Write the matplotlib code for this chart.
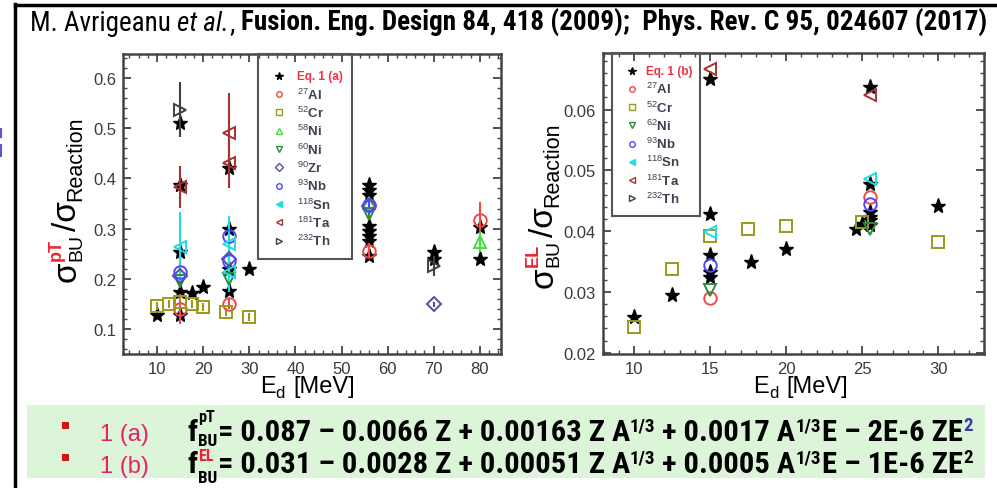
import matplotlib
matplotlib.use('Agg')
import matplotlib.pyplot as plt
from matplotlib import font_manager
from matplotlib.lines import Line2D
from matplotlib.patches import Rectangle
from matplotlib.ticker import MultipleLocator, FormatStrFormatter

# ---------------- data ----------------
# left panel: sigma_BU^pT / sigma_R
pT_eq_E = [10, 15, 15, 15, 15, 15, 17.5, 20, 25.5, 25.5, 25.5, 25.5, 30,
           56, 56, 56, 56, 56, 56, 56, 56, 70, 70, 80, 80]
pT_eq_f = [0.127, 0.510, 0.387, 0.253, 0.173, 0.127, 0.172, 0.183, 0.420, 0.300, 0.219, 0.176, 0.220,
           0.386, 0.376, 0.366, 0.306, 0.296, 0.286, 0.276, 0.246, 0.253, 0.240, 0.303, 0.240]

pT_Al_E = [15, 25.5, 56, 80]
pT_Al_f = [0.140, 0.150, 0.256, 0.317]
pT_Al_err = [0.030, 0.010, 0.015, 0.035]

pT_Cr_E = [10, 12.5, 15, 17.5, 20, 25, 30]
pT_Cr_f = [0.145, 0.150, 0.153, 0.150, 0.143, 0.133, 0.123]
pT_Cr_err = [0.008, 0.008, 0.008, 0.008, 0.008, 0.008, 0.008]

pT_Ni58_E = [56, 80]
pT_Ni58_f = [0.350, 0.273]
pT_Ni58_err = [0.010, 0.020]

pT_Ni60_E = [15, 25.5, 56]
pT_Ni60_f = [0.196, 0.200, 0.330]
pT_Ni60_err = [0.015, 0.015, 0.010]

pT_Zr_E = [15, 25.5, 56, 70]
pT_Zr_f = [0.206, 0.240, 0.345, 0.149]
pT_Zr_err = [0.010, 0.010, 0.010, 0.005]

pT_Nb_E = [15, 25.5, 25.5, 56]
pT_Nb_f = [0.213, 0.286, 0.236, 0.348]
pT_Nb_err = [0.015, 0.020, 0.020, 0.010]

pT_Sn_E = [15, 25.5, 25.5]
pT_Sn_f = [0.263, 0.270, 0.213]
pT_Sn_err = [0.070, 0.055, 0.040]

pT_Ta_E = [15, 25.5, 25.5]
pT_Ta_f = [0.383, 0.490, 0.430]
pT_Ta_err = [0.042, 0.080, 0.050]

pT_Th_E = [15, 70]
pT_Th_f = [0.537, 0.226]
pT_Th_err = [0.055, 0.020]

# right panel: sigma_BU^EL / sigma_R
EL_eq_E = [10, 12.5, 15, 15, 15, 15, 15, 17.7, 20, 24.6, 25, 25.5, 25.5, 25.5, 25.5, 25.5, 25.5, 30]
EL_eq_f = [0.0259, 0.0295, 0.0650, 0.0429, 0.0360, 0.0333, 0.0325, 0.0349, 0.0371,
           0.0403, 0.0412, 0.0637, 0.0477, 0.0431, 0.0423, 0.0418, 0.0410, 0.0441]

EL_Al_E = [15, 25.5]
EL_Al_f = [0.0290, 0.0456]
EL_Cr_E = [10, 12.5, 15, 17.5, 20, 25, 30]
EL_Cr_f = [0.0243, 0.0338, 0.0392, 0.0404, 0.0409, 0.0415, 0.0383]
EL_Ni62_E = [15, 25.5]
EL_Ni62_f = [0.0303, 0.0404]
EL_Nb_E = [15, 25.5]
EL_Nb_f = [0.0344, 0.0445]
EL_Sn_E = [15, 25.5]
EL_Sn_f = [0.0399, 0.0486]
EL_Ta_E = [15, 25.5]
EL_Ta_f = [0.0667, 0.0624]

legend_left = ['Eq. 1 (a)', '$^{27}$Al', '$^{52}$Cr', '$^{58}$Ni', '$^{60}$Ni', '$^{90}$Zr',
               '$^{93}$Nb', '$^{118}$Sn', '$^{181}$Ta', '$^{232}$Th']
legend_right = ['Eq. 1 (b)', '$^{27}$Al', '$^{52}$Cr', '$^{62}$Ni', '$^{93}$Nb',
                '$^{118}$Sn', '$^{181}$Ta', '$^{232}$Th']

# ---------------- styles ----------------
STY = {
    'eq': ('*', 'black'),
    'Al': ('o', '#f04848'),
    'Cr': ('s', '#9a9a1a'),
    'Ni58': ('^', '#40e040'),
    'Ni60': ('v', '#2e8b3e'),
    'Ni62': ('v', '#2e8b3e'),
    'Zr': ('D', '#5a4aa0'),
    'Nb': ('o', '#4a4aff'),
    'Sn': ('<', '#20dde5'),
    'Ta': ('<', '#a83232'),
    'Th': ('>', '#404040'),
}
left_keys = ['eq', 'Al', 'Cr', 'Ni58', 'Ni60', 'Zr', 'Nb', 'Sn', 'Ta', 'Th']
right_keys = ['eq', 'Al', 'Cr', 'Ni62', 'Nb', 'Sn', 'Ta', 'Th']

SANS = 'Liberation Sans'
ttf = font_manager.fontManager.ttflist
names = {f.name for f in ttf}
NARROW, STRETCH = SANS, 'normal'
for cand in ['Liberation Sans Narrow', 'Arial Narrow', 'Nimbus Sans Narrow', 'Roboto Condensed',
             'Open Sans Condensed', 'DejaVu Sans Condensed']:
    if cand in names:
        NARROW = cand
        break
else:
    for f in ttf:
        if f.name in ('DejaVu Sans', 'Roboto', 'Open Sans', 'Noto Sans') and str(f.stretch) in (
                'condensed', 'semi-condensed', '87.5', '75', 'extra-condensed'):
            NARROW, STRETCH = f.name, 'condensed'
            break

plt.rcParams['font.family'] = [SANS, 'DejaVu Sans']
plt.rcParams['mathtext.fontset'] = 'custom'
plt.rcParams['mathtext.rm'] = SANS
plt.rcParams['mathtext.it'] = SANS + ':italic'
plt.rcParams['mathtext.bf'] = SANS + ':bold'

W, H = 997, 489
fig = plt.figure(figsize=(W / 100, H / 100), dpi=100)
renderer = fig.canvas.get_renderer()


def F(x, y):
    return (x / W, 1 - y / H)


def runs(x, y, groups, family, rot=0, scale=1.0, stretch='normal'):
    arts = []
    pos = 0.0
    for g in groups:
        if isinstance(g, (int, float)):
            pos += g * scale
            continue
        adv = 0.0
        for (s, size, dy, color, weight, style) in g:
            if rot == 0:
                xx, yy = x + pos, y - dy * scale
            else:
                xx, yy = x - dy * scale, y - pos
            t = fig.text(xx / W, 1 - yy / H, s, fontsize=size * scale, color=color,
                         fontweight=weight, fontstyle=style, family=[family, 'DejaVu Sans'],
                         fontstretch=stretch,
                         rotation=rot, rotation_mode='anchor', ha='left', va='baseline')
            bb = t.get_window_extent(renderer)
            adv = max(adv, bb.width if rot == 0 else bb.height)
            arts.append(t)
        pos += adv
    return arts, pos


def fit_runs(x, y, groups, family, target, rot=0, stretch='normal'):
    arts, total = runs(x, y, groups, family, rot, stretch=stretch)
    for a in arts:
        a.remove()
    s = target / total
    runs(x, y, groups, family, rot, scale=s, stretch=stretch)


# outer frame and background box
fig.add_artist(Line2D([15 / W, 15 / W], [0, 1 - 5 / H], color='black', lw=2.5, transform=fig.transFigure))
fig.add_artist(Line2D([15 / W, 1], [1 - 6 / H, 1 - 6 / H], color='black', lw=2.5, transform=fig.transFigure))
fig.add_artist(Line2D([1 / W, 1 / W], [1 - 130 / H, 1 - 138 / H], color='#5a5ad0', lw=1.5, transform=fig.transFigure))
fig.add_artist(Line2D([1 / W, 1 / W], [1 - 146 / H, 1 - 157 / H], color='#5a5ad0', lw=1.5, transform=fig.transFigure))
fig.add_artist(Rectangle(F(27, 479), 958 / W, 73 / H, transform=fig.transFigure,
                         facecolor='#dcf5d8', edgecolor='none', zorder=0))

# ---------------- axes ----------------
ax1 = fig.add_axes([123 / W, 1 - 355 / H, 378 / W, 300 / H])
ax2 = fig.add_axes([603 / W, 1 - 355 / H, 381 / W, 301 / H])

for ax in (ax1, ax2):
    for sp in ax.spines.values():
        sp.set_color('#444444')
        sp.set_linewidth(1.8)
    ax.tick_params(which='both', direction='in', top=True, right=True, color='#444444',
                   labelsize=12, labelcolor='#3a3a3a', pad=5)
    ax.tick_params(which='major', length=6, width=1.3)
    ax.tick_params(which='minor', length=3, width=1.0)

ax1.set_xlim(2.6, 84.6)
ax1.set_ylim(0.05, 0.648)
ax1.xaxis.set_major_locator(MultipleLocator(10))
ax1.xaxis.set_minor_locator(MultipleLocator(2))
ax1.yaxis.set_major_locator(MultipleLocator(0.1))
ax1.yaxis.set_minor_locator(MultipleLocator(0.02))
ax1.yaxis.set_major_formatter(FormatStrFormatter('%.1f'))

ax2.set_xlim(7.96, 33.0)
ax2.set_ylim(0.0198, 0.0693)
ax2.xaxis.set_major_locator(MultipleLocator(5))
ax2.xaxis.set_minor_locator(MultipleLocator(1))
ax2.yaxis.set_major_locator(MultipleLocator(0.01))
ax2.yaxis.set_minor_locator(MultipleLocator(0.002))
ax2.yaxis.set_major_formatter(FormatStrFormatter('%.2f'))

MS = {'eq': 11, 'Al': 9, 'Cr': 8, 'Ni58': 9, 'Ni60': 8, 'Ni62': 8, 'Zr': 7, 'Nb': 9,
      'Sn': 9, 'Ta': 9, 'Th': 9}


def draw(ax, key, E, f, err=None):
    m, c = STY[key]
    if key == 'eq':
        ax.plot(E, f, ls='none', marker=m, ms=MS[key], color=c, mec=c, zorder=3)
    else:
        ax.errorbar(E, f, yerr=err, fmt=m, ms=MS[key], mfc='none', mec=c, mew=1.4,
                    ecolor=c, elinewidth=1.5, capsize=0, zorder=4)


draw(ax1, 'eq', pT_eq_E, pT_eq_f)
draw(ax1, 'Al', pT_Al_E, pT_Al_f, pT_Al_err)
draw(ax1, 'Cr', pT_Cr_E, pT_Cr_f, pT_Cr_err)
draw(ax1, 'Ni58', pT_Ni58_E, pT_Ni58_f, pT_Ni58_err)
draw(ax1, 'Ni60', pT_Ni60_E, pT_Ni60_f, pT_Ni60_err)
draw(ax1, 'Zr', pT_Zr_E, pT_Zr_f, pT_Zr_err)
draw(ax1, 'Nb', pT_Nb_E, pT_Nb_f, pT_Nb_err)
draw(ax1, 'Sn', pT_Sn_E, pT_Sn_f, pT_Sn_err)
draw(ax1, 'Ta', pT_Ta_E, pT_Ta_f, pT_Ta_err)
draw(ax1, 'Th', pT_Th_E, pT_Th_f, pT_Th_err)

draw(ax2, 'eq', EL_eq_E, EL_eq_f)
draw(ax2, 'Al', EL_Al_E, EL_Al_f)
draw(ax2, 'Cr', EL_Cr_E, EL_Cr_f)
draw(ax2, 'Ni62', EL_Ni62_E, EL_Ni62_f)
draw(ax2, 'Nb', EL_Nb_E, EL_Nb_f)
draw(ax2, 'Sn', EL_Sn_E, EL_Sn_f)
draw(ax2, 'Ta', EL_Ta_E, EL_Ta_f)

# ---------------- legends (drawn by hand) ----------------
def legend(box, mx, tx, y0, dy, keys, labels):
    x0, yt, x1, yb = box
    fig.add_artist(Rectangle(F(x0, yb), (x1 - x0) / W, (yb - yt) / H, transform=fig.transFigure,
                             fill=False, edgecolor='#555555', lw=1.5, zorder=5))
    for i, (k, lab) in enumerate(zip(keys, labels)):
        y = y0 + i * dy
        m, c = STY[k]
        if k == 'eq':
            fig.add_artist(Line2D([mx / W], [1 - y / H], marker='*', ms=5.5, color='black',
                                  ls='none', transform=fig.transFigure, zorder=6))
            fig.text(tx / W, 1 - y / H, lab, color='#ee3344', fontsize=8.5, fontweight='bold',
                     va='center', ha='left', zorder=6)
        else:
            fig.add_artist(Line2D([mx / W], [1 - y / H], marker=m, ms=4, mfc='none' if k != 'Sn' else c,
                                  mec=c, mew=1.0, ls='none', transform=fig.transFigure, zorder=6))
            fig.text(tx / W, 1 - y / H, lab, color='#404050', fontsize=9.5, fontweight='bold',
                     va='center', ha='left', zorder=6)


legend((258, 55, 352, 260), 279, 297, 76.7, 18.33, left_keys, legend_left)
legend((612, 54, 700, 217), 632, 646, 71.7, 18.2, right_keys, legend_right)

# ---------------- axis labels ----------------
K = 'black'
for x0 in (260, 753):
    runs(x0, 393, [[('E', 17, 0, K, 'normal', 'normal')], [('d', 12, -5, K, 'normal', 'normal')], 8,
                   [('[MeV]', 17, 0, K, 'normal', 'normal')]], SANS)

RED = '#ee2233'
for (x0, y0, sup) in ((76, 282, 'pT'), (553, 288, 'EL')):
    runs(x0, y0, [[('σ', 24, 0, K, 'normal', 'normal')],
                  [('BU', 14, -5, K, 'normal', 'normal'), (sup, 13, 15, RED, 'bold', 'normal')], 3,
                  [('/σ', 24, 0, K, 'normal', 'normal')],
                  [('Reaction', 15.5, -5, K, 'normal', 'normal')]], SANS, rot=90)

# ---------------- title ----------------
fit_runs(30, 31, [[('M. Avrigeanu', 15, 0, K, 'normal', 'normal')], 5,
                  [('et al.', 15, 0, K, 'normal', 'italic')],
                  [(',', 15, 0, K, 'normal', 'normal')], 5,
                  [('Fusion. Eng. Design 84, 418 (2009);  Phys. Rev. C 95, 024607 (2017)', 15, 0, K, 'bold', 'normal')]],
         NARROW, 960, stretch=STRETCH)

# ---------------- formula box ----------------
PINK = '#e8206a'
BUL = '#d01818'
for yb, lab in ((441, '1 (a)'), (473, '1 (b)')):
    fig.add_artist(Rectangle(F(61.5, yb - 11), 7 / W, 7 / H, transform=fig.transFigure,
                             facecolor=BUL, edgecolor='none'))
    fig.text(100 / W, 1 - yb / H, lab, color=PINK, fontsize=17, family=[SANS], ha='left', va='baseline')

B = 'bold'
N = 'normal'
for (yb, sup, supc, num, c2, dsub, dsup) in (
        (441, 'pT', K, ['= 0.087 – 0.0066 Z + 0.00163 Z A', '+ 0.0017 A', 'E – 2E-6 ZE'], '#3a3ab0', -3.5, 13.5),
        (473, 'EL', '#ee2233', ['= 0.031 – 0.0028 Z + 0.00051 Z A', '+ 0.0005 A', 'E – 1E-6 ZE'], K, -7, 8.5)):
    fit_runs(187, yb, [[('f', 16, 0, K, B, N)], 1,
                       [('BU', 9, dsub, K, B, N), (sup, 8.5, dsup, supc, B, N)],
                       [(num[0], 16, 0, K, B, N)],
                       [('1/3', 10, 7, K, B, N)], 5,
                       [(num[1], 16, 0, K, B, N)],
                       [('1/3', 10, 7, K, B, N)], 1,
                       [(num[2], 16, 0, K, B, N)],
                       [('2', 10, 7, c2, B, N)]], NARROW, 786, stretch=STRETCH)

fig.savefig('out.png', dpi=100)
